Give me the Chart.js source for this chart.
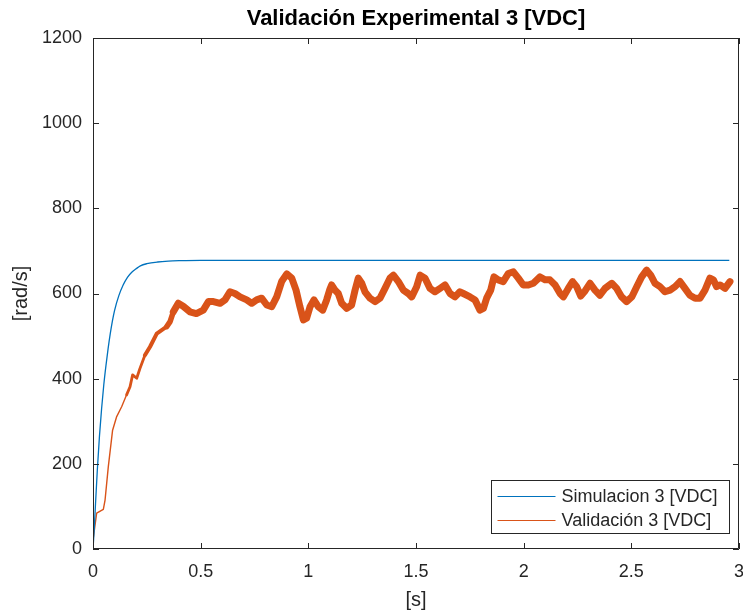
<!DOCTYPE html>
<html>
<head>
<meta charset="utf-8">
<script src="https://cdn.jsdelivr.net/npm/chart.js@4/dist/chart.umd.min.js"></script>
<style>
html,body{margin:0;padding:0;background:#fff;}
#wrap{width:743px;height:613px;position:relative;}
</style>
</head>
<body>
<div id="wrap"><canvas id="c" width="743" height="613"></canvas></div>
<script>
const chartTitle = 'Validación Experimental 3 [VDC]';
const xLabel = '[s]';
const yLabel = '[rad/s]';
const seriesNames = ['Simulacion 3 [VDC]', 'Validación 3 [VDC]'];

const simT = [0, 0.005, 0.01, 0.02, 0.03, 0.04, 0.05, 0.06, 0.07, 0.08, 0.09, 0.1, 0.12, 0.14, 0.16, 0.18, 0.2, 0.22, 0.25, 0.3, 0.35, 0.4, 0.5, 0.7, 1, 2, 2.955];
const simV = [0, 40, 90, 185, 265, 330, 385, 430, 470, 505, 535, 560, 595, 620, 638, 650, 658, 665, 670, 674, 676, 677, 678, 678, 678, 678, 678];

const valT = [0, 0.017, 0.048, 0.056, 0.071, 0.091, 0.11, 0.133, 0.156, 0.172, 0.184, 0.203, 0.218, 0.241, 0.265, 0.296, 0.319, 0.342, 0.358, 0.373, 0.396, 0.419, 0.45, 0.48, 0.512, 0.536, 0.559, 0.59, 0.613, 0.636, 0.659, 0.683, 0.714, 0.737, 0.76, 0.783, 0.807, 0.83, 0.853, 0.876, 0.9, 0.923, 0.943, 0.961, 0.977, 0.992, 1.008, 1.026, 1.046, 1.067, 1.085, 1.1, 1.108, 1.124, 1.139, 1.155, 1.178, 1.201, 1.217, 1.232, 1.248, 1.263, 1.286, 1.31, 1.333, 1.356, 1.379, 1.395, 1.418, 1.441, 1.464, 1.48, 1.503, 1.519, 1.542, 1.565, 1.588, 1.612, 1.635, 1.658, 1.681, 1.704, 1.72, 1.751, 1.774, 1.797, 1.813, 1.828, 1.847, 1.862, 1.882, 1.905, 1.929, 1.952, 1.975, 1.998, 2.022, 2.045, 2.076, 2.099, 2.122, 2.146, 2.169, 2.184, 2.207, 2.227, 2.246, 2.265, 2.285, 2.308, 2.331, 2.354, 2.378, 2.409, 2.432, 2.455, 2.478, 2.502, 2.525, 2.548, 2.571, 2.59, 2.61, 2.633, 2.656, 2.68, 2.703, 2.726, 2.749, 2.772, 2.796, 2.819, 2.842, 2.865, 2.881, 2.896, 2.912, 2.935, 2.958];
const valV = [21, 84, 93, 115, 193, 279, 311, 334, 362, 381, 409, 401, 424, 455, 475, 506, 514, 522, 534, 557, 577, 570, 557, 553, 561, 581, 581, 577, 585, 604, 600, 592, 585, 577, 585, 589, 573, 569, 592, 628, 646, 636, 608, 569, 538, 542, 569, 585, 569, 561, 585, 610, 620, 608, 600, 577, 565, 573, 608, 636, 624, 604, 589, 581, 589, 612, 636, 643, 628, 608, 600, 592, 616, 643, 636, 612, 604, 612, 620, 600, 592, 604, 600, 592, 585, 561, 565, 589, 608, 639, 632, 628, 647, 651, 636, 620, 620, 624, 639, 632, 632, 620, 600, 592, 612, 628, 616, 594, 606, 624, 608, 596, 612, 624, 612, 592, 581, 592, 616, 639, 655, 643, 624, 616, 604, 608, 616, 628, 612, 596, 589, 589, 608, 636, 632, 616, 620, 612, 628];

const xTicks = [0, 0.5, 1, 1.5, 2, 2.5, 3];
const yTicks = [0, 200, 400, 600, 800, 1000, 1200];

const BLUE = '#0072BD', ORANGE = '#D95319', AX = '#262626';
const FONT = '"Liberation Sans", Arial, Helvetica, sans-serif';

const toPts = (ts, vs) => ts.map((t, i) => ({x: t, y: vs[i]}));

const decor = {
  id: 'decor',
  afterDatasetsDraw(chart) {
    const {ctx, chartArea: a, scales: {x, y}} = chart;
    ctx.save();
    ctx.strokeStyle = AX;
    ctx.lineWidth = 1;
    ctx.beginPath();
    ctx.rect(a.left + 0.5, a.top + 0.5, a.right - a.left - 1, a.bottom - a.top - 1);
    ctx.stroke();
    const L = 6;
    ctx.beginPath();
    xTicks.forEach(v => {
      const px = Math.round(x.getPixelForValue(v)) + 0.5;
      ctx.moveTo(px, a.bottom); ctx.lineTo(px, a.bottom - L);
      ctx.moveTo(px, a.top); ctx.lineTo(px, a.top + L);
    });
    yTicks.forEach(v => {
      const py = Math.round(y.getPixelForValue(v)) + 0.5;
      ctx.moveTo(a.left, py); ctx.lineTo(a.left + L, py);
      ctx.moveTo(a.right, py); ctx.lineTo(a.right - L, py);
    });
    ctx.stroke();

    // legend
    const bx = 491.5, by = 480.5, bw = 238, bh = 53;
    ctx.fillStyle = '#fff';
    ctx.fillRect(bx, by, bw, bh);
    ctx.strokeStyle = AX;
    ctx.strokeRect(bx, by, bw, bh);
    ctx.font = '18px ' + FONT;
    ctx.textBaseline = 'middle';
    ctx.textAlign = 'left';
    chart.data.datasets.forEach((ds, i) => {
      const ly = by + 16 + i * 24;
      ctx.strokeStyle = ds.borderColor;
      ctx.lineWidth = 1;
      ctx.beginPath(); ctx.moveTo(bx + 6, ly); ctx.lineTo(bx + 64, ly); ctx.stroke();
      ctx.fillStyle = AX;
      ctx.fillText(ds.label, bx + 70, ly + 1);
    });

    // titles
    ctx.fillStyle = '#000';
    ctx.textAlign = 'center';
    ctx.textBaseline = 'middle';
    ctx.font = 'bold 22px ' + FONT;
    ctx.fillText(chartTitle, (a.left + a.right) / 2, 19);
    ctx.fillStyle = AX;
    ctx.font = '20px ' + FONT;
    ctx.fillText(xLabel, (a.left + a.right) / 2, 600);
    ctx.save();
    ctx.translate(21, (a.top + a.bottom) / 2);
    ctx.rotate(-Math.PI / 2);
    ctx.fillText(yLabel, 0, 0);
    ctx.restore();
    ctx.restore();
  }
};

new Chart(document.getElementById('c'), {
  type: 'line',
  data: {
    datasets: [
      {label: seriesNames[0], data: toPts(simT, simV), borderColor: BLUE, borderWidth: 1.3, pointRadius: 0, cubicInterpolationMode: 'monotone', order: 1},
      {label: seriesNames[1], data: toPts(valT, valV), borderColor: ORANGE, borderWidth: 1.3, pointRadius: 0, borderJoinStyle: 'round', borderCapStyle: 'round',
       segment: {borderWidth: c => {
         const t = c.p0.parsed.x;
         return t > 0.37 ? 7 : (t > 0.33 ? 5.5 : (t > 0.24 ? 4 : (t > 0.15 ? 2.8 : 1.4)));
       }}, order: 2}
    ]
  },
  options: {
    responsive: false,
    animation: false,
    layout: {padding: {left: 0, right: 4, top: 38, bottom: 0}},
    plugins: {legend: {display: false}, title: {display: false}, tooltip: {enabled: false}},
    scales: {
      x: {
        type: 'linear', min: 0, max: 3,
        afterFit(s) { s.height = 64; s.paddingLeft = 0; s.paddingRight = 0; },
        afterBuildTicks(s) { s.ticks = xTicks.map(v => ({value: v})); },
        grid: {display: false, drawTicks: false},
        border: {display: false},
        ticks: {color: AX, font: {family: FONT, size: 18}, padding: 12, maxRotation: 0, autoSkip: false, callback: v => String(v)}
      },
      y: {
        type: 'linear', min: 0, max: 1200,
        afterFit(s) { s.width = 93; s.paddingTop = 0; s.paddingBottom = 0; },
        afterBuildTicks(s) { s.ticks = yTicks.map(v => ({value: v})); },
        grid: {display: false, drawTicks: false},
        border: {display: false},
        ticks: {color: AX, font: {family: FONT, size: 18}, padding: 11, autoSkip: false, callback: v => String(v)}
      }
    }
  },
  plugins: [decor]
});
</script>
</body>
</html>
